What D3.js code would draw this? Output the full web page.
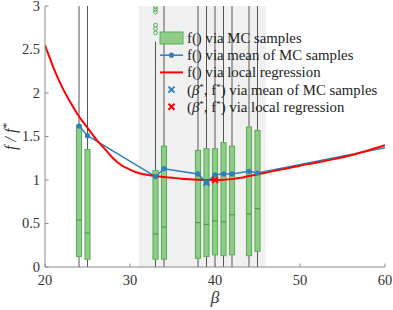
<!DOCTYPE html>
<html><head><meta charset="utf-8">
<script src="https://cdn.jsdelivr.net/npm/d3@7"></script>
<style>body{margin:0;background:#fff;} svg{display:block;} text{font-family:"Liberation Serif";}</style>
</head><body><div id="chart"></div>
<script>
// ---- data ----
const xTicks = [20, 30, 40, 50, 60];
const yTicks = [0, 0.5, 1, 1.5, 2, 2.5, 3];
const yTickLabels = ["0", "0.5", "1", "1.5", "2", "2.5", "3"];
const shadeRange = [31, 46];
const boxBeta   = [24, 25, 33, 34, 38, 39, 40, 41, 42, 44, 45];
const boxQ1     = [0.12, 0.09, 0.09, 0.09, 0.10, 0.12, 0.14, 0.13, 0.14, 0.13, 0.18];
const boxMedian = [0.54, 0.39, 0.38, 0.46, 0.51, 0.49, 0.53, 0.52, 0.60, 0.61, 0.67];
const boxQ3     = [1.63, 1.35, 1.11, 1.39, 1.34, 1.36, 1.36, 1.43, 1.39, 1.61, 1.57];
const whiskLo   = [0, 0, 0, 0, 0, 0, 0, 0, 0, 0, 0];
const whiskHi   = [3.5, 3.5, 2.59, 3.5, 3.5, 3.5, 3.5, 3.5, 3.5, 3.5, 3.5];
const outlierBeta = [33, 33, 33, 33, 33, 33];
const outlierVal  = [2.99, 2.96, 2.93, 2.78, 2.74, 2.69];
const meanBeta = [24, 25, 33, 34, 38, 39, 40, 41, 42, 44, 45, 60];
const meanVal  = [1.62, 1.51, 1.04, 1.13, 1.07, 0.97, 1.06, 1.07, 1.07, 1.10, 1.08, 1.37];
const regBeta = [20,21,22,23,24,25,26,27,28,29,30,31,32,33,34,35,36,37,38,39,40,41,42,43,44,45,46,48,50,52,54,56,58,60];
const regVal  = [2.55,2.29,2.07,1.89,1.73,1.60,1.47,1.36,1.25,1.17,1.12,1.08,1.06,1.045,1.035,1.025,1.015,1.008,1.003,1.0,1.0,1.003,1.01,1.025,1.045,1.065,1.085,1.125,1.165,1.20,1.24,1.285,1.34,1.40];
const optMean = [39, 0.97];
const optReg  = [40, 1.0];
const legendLabels = ["f() via MC samples", "f() via mean of MC samples", "f() via local regression",
  "via mean of MC samples", "via local regression"];

// ---- drawing ----
const W = 393, H = 310;
const x = d3.scaleLinear().domain([20, 60]).range([45, 385]);
const y = d3.scaleLinear().domain([0, 3]).range([267, 6]);
const svg = d3.select("#chart").append("svg").attr("width", W).attr("height", H);

const GREEN_FILL = "#8fcc88", GREEN_EDGE = "#55ae55", BLUE = "#2f7fbf", RED = "#ff0000";

svg.append("defs").append("clipPath").attr("id", "plotclip")
  .append("rect").attr("x", x(20)).attr("y", y(3)).attr("width", x(60) - x(20)).attr("height", y(0) - y(3));

const plot = svg.append("g").attr("clip-path", "url(#plotclip)");

// shaded region
plot.append("rect").attr("x", x(shadeRange[0])).attr("width", x(shadeRange[1]) - x(shadeRange[0]))
  .attr("y", y(3)).attr("height", y(0) - y(3)).attr("fill", "#f0f0f0");

// boxes
const bw = x(20.6) - x(20);
const boxes = boxBeta.map((b, i) => ({b, q1: boxQ1[i], med: boxMedian[i], q3: boxQ3[i], lo: whiskLo[i], hi: whiskHi[i]}));
const bg = plot.append("g");
bg.selectAll("line.wlo").data(boxes).join("line")
  .attr("x1", d => x(d.b)).attr("x2", d => x(d.b)).attr("y1", d => y(d.lo)).attr("y2", d => y(d.q1))
  .attr("stroke", "#555").attr("stroke-width", 1);
bg.selectAll("line.whi").data(boxes).join("line").attr("class", "whi")
  .attr("x1", d => x(d.b)).attr("x2", d => x(d.b)).attr("y1", d => y(d.q3)).attr("y2", d => y(d.hi))
  .attr("stroke", "#555").attr("stroke-width", 1);
bg.selectAll("rect.box").data(boxes).join("rect").attr("class", "box")
  .attr("x", d => x(d.b) - bw / 2).attr("width", bw)
  .attr("y", d => y(d.q3)).attr("height", d => y(d.q1) - y(d.q3))
  .attr("fill", GREEN_FILL).attr("stroke", GREEN_EDGE).attr("stroke-width", 1);
bg.selectAll("line.med").data(boxes).join("line").attr("class", "med")
  .attr("x1", d => x(d.b) - bw / 2).attr("x2", d => x(d.b) + bw / 2)
  .attr("y1", d => y(d.med)).attr("y2", d => y(d.med))
  .attr("stroke", "#3f9a3f").attr("stroke-width", 1);
bg.selectAll("circle.out").data(outlierBeta.map((b, i) => [b, outlierVal[i]])).join("circle")
  .attr("cx", d => x(d[0])).attr("cy", d => y(d[1])).attr("r", 1.9)
  .attr("fill", "none").attr("stroke", GREEN_EDGE).attr("stroke-width", 1);

// mean line
const meanPts = meanBeta.map((b, i) => [b, meanVal[i]]);
plot.append("path").datum(meanPts)
  .attr("d", d3.line().x(d => x(d[0])).y(d => y(d[1])))
  .attr("fill", "none").attr("stroke", BLUE).attr("stroke-width", 1.5);

// regression
const regPts = regBeta.map((b, i) => [b, regVal[i]]);
plot.append("path").datum(regPts)
  .attr("d", d3.line().curve(d3.curveMonotoneX).x(d => x(d[0])).y(d => y(d[1])))
  .attr("fill", "none").attr("stroke", RED).attr("stroke-width", 2);

// mean dots (only at sampled betas)
plot.selectAll("circle.md").data(meanPts.filter(p => boxBeta.includes(p[0]))).join("circle")
  .attr("cx", d => x(d[0])).attr("cy", d => y(d[1])).attr("r", 2.6).attr("fill", BLUE);

function cross(g, cx, cy, s, color) {
  g.append("path").attr("d", `M${cx - s},${cy - s}L${cx + s},${cy + s}M${cx - s},${cy + s}L${cx + s},${cy - s}`)
    .attr("stroke", color).attr("stroke-width", 2).attr("fill", "none");
}
cross(plot, x(optMean[0]), y(optMean[1]), 3, BLUE);
cross(plot, x(optReg[0]), y(optReg[1]), 3, RED);

// axes
const axisColor = "#8a8a8a", textColor = "#333";
const ax = svg.append("g");
ax.append("line").attr("x1", x(20)).attr("x2", x(20)).attr("y1", y(0)).attr("y2", y(3)).attr("stroke", axisColor);
ax.append("line").attr("x1", x(20)).attr("x2", x(60)).attr("y1", y(0)).attr("y2", y(0)).attr("stroke", axisColor);
xTicks.forEach(t => {
  ax.append("line").attr("x1", x(t)).attr("x2", x(t)).attr("y1", y(0)).attr("y2", y(0) - 3.5).attr("stroke", axisColor);
  ax.append("text").attr("x", x(t)).attr("y", 285).attr("text-anchor", "middle")
    .attr("font-size", 14.5).attr("fill", textColor).text(t);
});
yTicks.forEach((t, i) => {
  ax.append("line").attr("x1", x(20)).attr("x2", x(20) + 3.5).attr("y1", y(t)).attr("y2", y(t)).attr("stroke", axisColor);
  ax.append("text").attr("x", 40).attr("y", y(t) + 4.8).attr("text-anchor", "end")
    .attr("font-size", 14.5).attr("fill", textColor).text(yTickLabels[i]);
});
// axis labels
svg.append("text").attr("x", x(40)).attr("y", 303).attr("text-anchor", "middle")
  .attr("font-size", 17).attr("font-style", "italic").attr("fill", textColor).text("β");
const yl = svg.append("text").attr("transform", `translate(16,${(y(0) + y(3)) / 2}) rotate(-90)`)
  .attr("text-anchor", "middle").attr("font-size", 16).attr("font-style", "italic").attr("fill", textColor);
yl.append("tspan").text("f / f");
yl.append("tspan").attr("dy", -6).attr("font-size", 11).text("*");

// legend
const lg = svg.append("g").attr("font-size", 14.8).attr("fill", "#222");
const rowY = i => 38 + i * 17.2;
const lx0 = 160, lx1 = 183, tx = 187;
lg.append("rect").attr("x", lx0).attr("y", rowY(0) - 6).attr("width", lx1 - lx0).attr("height", 12)
  .attr("fill", GREEN_FILL).attr("stroke", GREEN_EDGE);
lg.append("line").attr("x1", lx0).attr("x2", lx1).attr("y1", rowY(1)).attr("y2", rowY(1)).attr("stroke", BLUE).attr("stroke-width", 1.5);
lg.append("circle").attr("cx", (lx0 + lx1) / 2).attr("cy", rowY(1)).attr("r", 2.6).attr("fill", BLUE);
lg.append("line").attr("x1", lx0).attr("x2", lx1).attr("y1", rowY(2)).attr("y2", rowY(2)).attr("stroke", RED).attr("stroke-width", 2);
cross(lg, (lx0 + lx1) / 2, rowY(3), 3, BLUE);
cross(lg, (lx0 + lx1) / 2, rowY(4), 3, RED);
[0, 1, 2].forEach(i => {
  lg.append("text").attr("x", tx).attr("y", rowY(i) + 4.9).text(legendLabels[i]);
});
[3, 4].forEach(i => {
  const t = lg.append("text").attr("x", tx).attr("y", rowY(i) + 4.9);
  t.append("tspan").text("(");
  t.append("tspan").attr("font-style", "italic").text("β");
  t.append("tspan").attr("dy", -5).attr("font-size", 9).text("*");
  t.append("tspan").attr("dy", 5).text(", f");
  t.append("tspan").attr("dy", -5).attr("font-size", 9).text("*");
  t.append("tspan").attr("dy", 5).text(") " + legendLabels[i]);
});
</script></body></html>
